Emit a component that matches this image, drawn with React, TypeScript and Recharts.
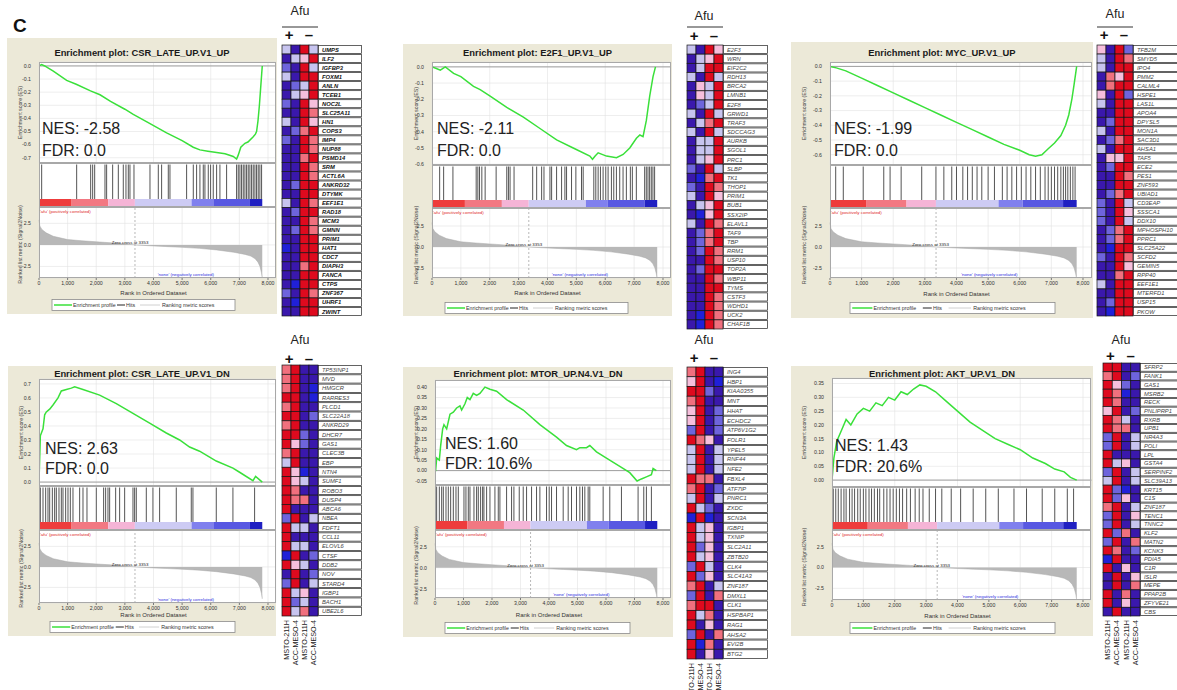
import React from "react";
import {
  LineChart, Line, XAxis, YAxis, CartesianGrid, ReferenceLine,
  ScatterChart, Scatter, AreaChart, Area, BarChart, Bar,
} from "recharts";

const FONT = '"Liberation Sans", Arial, Helvetica, sans-serif';
const XMAX = 8270;
const rankTicks = [0, 1000, 2000, 3000, 4000, 5000, 6000, 7000, 8000];
const zeroCross = 3353;

// ---- shared ranked list metric (Signal2Noise) ----
const metricRanks = [0, 30, 100, 250, 500, 1000, 1500, 2000, 2500, 3000, 3353, 4000, 4500, 5000, 5600, 6200, 6800, 7200, 7400, 7550, 7650, 7720, 7770, 7800];
const metricValues = [2.9, 2.2, 1.8, 1.4, 1.0, 0.62, 0.48, 0.36, 0.25, 0.12, 0.0, -0.12, -0.2, -0.28, -0.4, -0.58, -0.85, -1.1, -1.3, -1.6, -2.0, -2.5, -3.2, -3.9];

// ---- colour bar under the hits ----
const barEdges = [0, 1140, 2420, 3350, 5330, 6090, 7370, 7800];
const barColors = ["#ee3c3c", "#f27882", "#f5b4d6", "#cdcbf4", "#8080ee", "#5858e2", "#2020c2"];

// ---- panel 1: CSR_LATE_UP.V1_UP ----
const p1EsRanks = [0, 90, 200, 500, 966, 1300, 1800, 2131, 2500, 3000, 3294, 3800, 4458, 5000, 5389, 5622, 5900, 6205, 6500, 6787, 6903, 6960, 7050, 7194, 7300, 7485, 7560, 7601, 7650, 7700, 7740, 7780, 7800];
const p1EsValues = [0.0, 0.01, 0.0, -0.04, -0.11, -0.14, -0.19, -0.22, -0.27, -0.33, -0.37, -0.43, -0.51, -0.57, -0.62, -0.64, -0.65, -0.66, -0.67, -0.69, -0.71, -0.68, -0.62, -0.59, -0.58, -0.54, -0.52, -0.5, -0.42, -0.3, -0.18, -0.06, 0.0];
const p1Hits = [93, 1316, 1805, 1875, 1945, 2305, 2363, 2573, 2771, 2945, 3038, 3120, 3178, 3318, 3877, 4168, 4284, 4517, 4575, 5157, 5390, 5506, 5622, 5739, 5797, 5914, 5995, 6088, 6205, 6321, 6554, 6903, 6961, 7019, 7077, 7136, 7194, 7252, 7310, 7368, 7427, 7485, 7543, 7601, 7659, 7717, 7776];

// ---- panel 2: E2F1_UP.V1_UP ----
const p2EsRanks = [0, 150, 288, 460, 748, 1000, 1438, 1668, 2014, 2589, 3165, 3740, 4316, 4891, 5467, 5559, 5650, 5755, 6043, 6388, 6619, 6849, 7079, 7200, 7309, 7424, 7540, 7655, 7740];
const p2EsValues = [0.0, -0.01, -0.02, 0.0, -0.04, -0.06, -0.12, -0.14, -0.18, -0.25, -0.31, -0.38, -0.45, -0.5, -0.55, -0.57, -0.55, -0.53, -0.55, -0.56, -0.54, -0.5, -0.44, -0.42, -0.43, -0.33, -0.18, -0.06, 0.0];
const p2Hits = [265, 403, 725, 1530, 1588, 1646, 1726, 1841, 2221, 2589, 2647, 2704, 2842, 3487, 3625, 3797, 3878, 4085, 4143, 4315, 4488, 4603, 4660, 4833, 4983, 5178, 5236, 5604, 5673, 5754, 5834, 5926, 6018, 6099, 6214, 6295, 6387, 6502, 6617, 6732, 6870, 6939, 7077, 7365, 7422, 7480, 7537, 7595, 7652, 7710];

// ---- panel 3: MYC_UP.V1_UP ----
const p3EsRanks = [0, 200, 500, 1000, 1500, 2000, 2500, 3000, 3500, 4000, 4500, 5000, 5500, 6000, 6300, 6500, 6700, 6900, 7100, 7300, 7450, 7550, 7650, 7720, 7780, 7800];
const p3EsValues = [0.0, -0.01, -0.03, -0.08, -0.13, -0.18, -0.23, -0.28, -0.33, -0.38, -0.43, -0.48, -0.53, -0.57, -0.6, -0.61, -0.6, -0.56, -0.52, -0.47, -0.4, -0.33, -0.22, -0.12, -0.03, 0.0];
const p3Hits = [180, 420, 1050, 1700, 1900, 2250, 2900, 3350, 3600, 3850, 4000, 4200, 4350, 4500, 4650, 4800, 5000, 5200, 5450, 5600, 5750, 5900, 6050, 6200, 6350, 6500, 6650, 6800, 6900, 7000, 7100, 7200, 7300, 7380, 7450, 7520, 7600, 7680, 7750];

// ---- panel 4: CSR_LATE_UP.V1_DN ----
const p4EsRanks = [0, 47, 140, 198, 256, 373, 489, 664, 780, 955, 1129, 1246, 1537, 2119, 2701, 3283, 3865, 4447, 4913, 5262, 5611, 6193, 6775, 7008, 7474, 7567, 7800];
const p4EsValues = [0.0, 0.33, 0.38, 0.48, 0.5, 0.52, 0.55, 0.6, 0.65, 0.66, 0.67, 0.68, 0.66, 0.62, 0.56, 0.49, 0.42, 0.35, 0.3, 0.25, 0.22, 0.15, 0.1, 0.07, 0.01, 0.04, 0.0];
const p4Hits = [47, 140, 233, 314, 373, 466, 547, 605, 698, 780, 838, 931, 1013, 1094, 1187, 1420, 1537, 1676, 2002, 2258, 2328, 2410, 2468, 2678, 2817, 2992, 3283, 3341, 3399, 3749, 3981, 4214, 4796, 5320, 5378, 6193, 6775, 7532];

// ---- panel 5: MTOR_UP.N4.V1_DN ----
const p5EsRanks = [0, 23, 58, 152, 199, 269, 315, 409, 526, 643, 759, 876, 935, 1051, 1133, 1227, 1343, 1460, 1577, 1752, 1928, 2161, 2512, 3096, 3680, 4264, 4614, 4965, 5082, 5315, 5432, 5666, 6016, 6484, 6834, 7091, 7243, 7418, 7593, 7652, 7768];
const p5EsValues = [0.0, 0.0, 0.06, 0.05, 0.12, 0.2, 0.22, 0.2, 0.27, 0.28, 0.3, 0.31, 0.29, 0.32, 0.35, 0.34, 0.37, 0.36, 0.37, 0.4, 0.39, 0.38, 0.34, 0.29, 0.22, 0.16, 0.12, 0.1, 0.11, 0.11, 0.12, 0.09, 0.06, 0.02, -0.01, -0.05, -0.04, -0.03, -0.02, 0.01, 0.0];
const p5Hits = [58, 152, 234, 292, 386, 467, 549, 643, 736, 818, 1016, 1086, 1168, 1227, 1367, 1460, 1519, 1600, 1671, 1717, 1811, 1928, 2103, 2220, 2278, 2512, 2687, 2769, 2956, 3096, 3213, 3388, 3563, 3680, 3914, 4007, 4089, 4264, 4498, 4673, 4790, 4965, 5082, 5175, 5257, 5374, 5432, 5900, 6133, 6542, 7126, 7325, 7418, 7593];

// ---- panel 6: AKT_UP.V1_DN ----
const p6EsRanks = [0, 60, 150, 300, 450, 600, 800, 1000, 1200, 1400, 1600, 1800, 2000, 2200, 2400, 2600, 2800, 3000, 3300, 3600, 4000, 4400, 4800, 5200, 5600, 6000, 6400, 6800, 7100, 7400, 7600, 7800];
const p6EsValues = [0.0, 0.08, 0.14, 0.18, 0.22, 0.2, 0.24, 0.26, 0.25, 0.28, 0.27, 0.3, 0.29, 0.32, 0.31, 0.33, 0.345, 0.34, 0.32, 0.29, 0.25, 0.21, 0.18, 0.15, 0.13, 0.11, 0.08, 0.06, 0.04, 0.03, 0.01, 0.0];
const p6Hits = [40, 120, 200, 290, 380, 450, 560, 640, 720, 820, 900, 1000, 1080, 1180, 1260, 1350, 1450, 1520, 1650, 1750, 1850, 1950, 2050, 2150, 2250, 2380, 2500, 2650, 2780, 2900, 3100, 3300, 3500, 3800, 4100, 4500, 4900, 5300, 5800, 6200, 6700, 7100, 7500, 7700];

// ---- heatmaps ----
const colNames = ["MSTO-211H", "ACC-MESO-4", "MSTO-211H", "ACC-MESO-4"];

const h1Genes = ["UMPS", "ILF2", "IGFBP3", "FOXM1", "ANLN", "TCEB1", "NOC2L", "SLC25A11", "HN1", "COPS3", "IMP4", "NUP88", "PSMD14", "SRM", "ACTL6A", "ANKRD32", "DTYMK", "EEF1E1", "RAD18", "MCM3", "GMNN", "PRIM1", "HAT1", "CDC7", "DIAPH3", "FANCA", "CTPS", "ZNF367", "UHRF1", "ZWINT"];
const h1Values = [
  [-1, -3, 3, -1], [-3, -1, 1, 3], [-2, -3, 3, -1], [-1, -3, 3, 3], [-3, -2, -1, 3], [-3, -1, 1, 3],
  [-2, -3, 3, 1], [-3, -3, 3, 2], [-1, -3, 3, 1], [-3, -2, 2, 3], [-2, -3, 3, 2], [-3, -3, 3, 2],
  [-3, -3, 2, 3], [-3, -3, 3, 2], [-3, -3, 3, 2], [-3, -2, 3, 3], [-3, -3, 3, 3], [-1, -3, 3, 2],
  [-3, -2, 3, 3], [-3, -3, 3, 2], [-3, -2, 3, 2], [-3, -3, 3, 3], [-4, -3, 3, 3], [-3, -3, 3, 3],
  [-3, -3, 2, 3], [-3, -3, 3, 3], [-3, -4, 3, 3], [-2, -3, 3, 2], [-3, -4, 3, 3], [-3, -3, 3, 3],
];

const h2Genes = ["E2F3", "WRN", "EIF2C2", "RDH13", "BRCA2", "LMNB1", "E2F8", "GRWD1", "TRAF3", "SDCCAG3", "AURKB", "SGOL1", "PRC1", "SLBP", "TK1", "THOP1", "PRIM1", "BUB1", "SSX2IP", "ELAVL1", "TAF9", "TBP", "RRM1", "USP10", "TOP2A", "WBP11", "TYMS", "CSTF3", "WDHD1", "UCK2", "CHAF1B"];
const h2Values = [
  [-1, -3, 3, 1], [-3, -1, 1, 3], [-3, -1, 3, 3], [-1, -3, 3, -1], [-3, 1, -1, 3], [-3, 1, -1, 3],
  [-3, -2, -1, 3], [-1, -3, 3, -1], [-3, -1, 2, 3], [-1, -3, 3, -1], [-3, -1, -1, 3], [-3, -1, -1, 3],
  [-3, -1, 1, 3], [-2, -3, 3, -1], [-3, -4, 2, 3], [-2, -3, 3, 2], [-1, -3, 3, 1], [-3, -1, 1, 3],
  [-3, -4, 1, 3], [-1, -3, 3, 2], [-3, -2, 2, 3], [-3, -2, 2, 3], [-3, -2, 3, 2], [-3, -3, 3, 2],
  [-3, -2, 3, 3], [-3, -3, 3, 2], [-3, -3, 3, 3], [-3, -3, 3, 2], [-3, -3, 3, 2], [-3, -4, 3, 2],
  [-3, -4, 3, 2],
];

const h3Genes = ["TFB2M", "SMYD5", "IPO4", "PMM2", "CALML4", "HSPE1", "LAS1L", "APOA4", "DPYSL5", "MON1A", "SAC3D1", "AHSA1", "TAF5", "ECE2", "PES1", "ZNF593", "UBIAD1", "CD3EAP", "SSSCA1", "DDX10", "MPHOSPH10", "PPRC1", "SLC25A22", "SCFD2", "GEMIN5", "RPP40", "EEF1E1", "MTERFD1", "USP15", "PKOW"];
const h3Values = [
  [1, -3, 3, -2], [-1, -3, 3, 2], [-1, -3, 3, 3], [-3, 2, 1, 3], [-3, 2, 3, 3], [1, -3, 3, -2],
  [-1, -3, 3, 3], [-3, -3, 3, 3], [-3, -2, 3, 3], [-1, -3, 3, 3], [-3, -2, 2, 3], [-1, -3, 3, 3],
  [-3, 1, 1, 3], [-3, -2, 3, 3], [-3, -3, 3, 2], [-3, -3, 3, 3], [-3, -2, 2, 3], [-2, -3, 3, -1],
  [-2, -3, 3, 1], [-2, -3, 3, -1], [-3, -2, 2, 3], [-3, -2, 2, 3], [-3, -4, 3, 3], [-2, -3, 3, 2],
  [-3, -3, 3, 1], [-3, -3, 2, 3], [-1, -3, 3, 3], [-3, -3, 3, 3], [-3, -2, 3, 3], [-3, -4, 3, 3],
];

const h4Genes = ["TP53INP1", "MVD", "HMGCR", "RARRES3", "PLCD1", "SLC22A18", "ANKRD29", "DHCR7", "GAS1", "CLEC3B", "EBP", "NTN4", "SUMF1", "ROBO3", "DUSP4", "ABCA6", "NBEA", "FDFT1", "CCL11", "ELOVL6", "CTSF", "DDB2", "NOV", "STARD4", "IGBP1", "BACH1", "UBE2L6"];
const h4Values = [
  [2, 3, -3, -3], [2, 3, -3, -3], [2, 3, -3, -4], [3, 3, -3, -4], [2, 3, -3, -3], [3, 3, -3, -2],
  [2, 3, -3, -3], [3, 3, -2, -3], [3, 1, -2, -3], [2, 3, -3, -3], [-1, 3, -3, -3], [3, 1, -4, -3],
  [3, 1, -1, -3], [3, 2, -3, -3], [3, 2, 2, -3], [3, -3, -3, -3], [-2, 3, -3, -1], [3, -1, -1, -3],
  [3, -3, -3, -3], [3, -1, -1, -3], [-4, 3, -3, -2], [3, 1, -1, -3], [-3, 3, -3, -2], [-2, 3, -3, -1],
  [3, -1, 1, -3], [3, -2, -1, -3], [3, -1, 2, -3],
];

const h5Genes = ["ING4", "HBP1", "KIAA0355", "MNT", "HHAT", "ECHDC2", "ATP6V1G2", "FOLR1", "YPEL5", "RNF44", "NFE2", "FBXL4", "ATF7IP", "PNRC1", "ZXDC", "SCN3A", "IGBP1", "TXNIP", "SLC2A11", "ZBTB20", "CLK4", "SLC41A3", "ZNF187", "DMXL1", "CLK1", "HSPBAP1", "RAG1", "AHSA2", "EVI2B", "BTG2"];
const h5Values = [
  [2, 3, -3, -3], [1, 3, -3, -4], [3, 3, -2, -3], [2, 3, -3, -3], [1, 3, -3, -2], [1, 3, -3, -2],
  [-2, 3, -3, -2], [3, 2, 1, -3], [-1, 3, -3, -1], [-1, 3, -3, -1], [-1, 3, -3, -1], [3, 2, 2, -3],
  [2, 3, -3, -2], [-1, 3, -3, -1], [3, -1, -2, -3], [-4, 3, -4, -3], [3, -1, 1, -3], [3, -1, 1, -3],
  [3, -2, 1, -3], [3, -1, 1, -3], [-2, 3, -1, -3], [3, -2, 1, -3], [2, 3, -3, -1], [-2, 3, -3, 2],
  [2, 3, 3, -3], [3, -1, 2, -3], [3, -3, 1, -3], [-2, 3, -3, 2], [3, -4, 2, -3], [3, -3, 1, -3],
];

const h6Genes = ["SFRP2", "FANK1", "GAS1", "MSRB2", "RECK", "PNLIPRP1", "RXRB", "UPB1", "NR4A3", "POLI", "LPL", "GSTA4", "SERPINF2", "SLC39A13", "KRT15", "C1S", "ZNF187", "TENC1", "TNNC2", "KLF2", "MATN2", "KCNK3", "PDIA5", "C1R", "ISLR", "MEPE", "PPAP2B", "ZFYVE21", "CBS"];
const h6Values = [
  [3, 3, -3, -3], [2, 3, -3, -2], [3, 1, -2, -3], [3, 2, -4, -3], [3, 2, -3, -3], [1, 3, -3, -2],
  [3, 2, -1, -3], [3, 2, 2, -3], [-2, 3, -3, -1], [-2, 3, -3, -1], [3, -3, -3, -3], [3, -1, 1, -3],
  [-2, 3, -3, -1], [-1, 3, -3, -1], [3, -2, -4, -3], [3, -2, 1, -3], [2, 3, -3, -1], [-2, 3, -3, 1],
  [-2, 3, -3, -1], [3, -2, 2, -3], [-2, 3, -3, 2], [3, 2, -3, -2], [-4, 3, -3, -3], [3, -3, 1, -3],
  [-3, 3, -3, 1], [-3, 3, -3, 2], [3, -3, 2, -3], [3, -3, 1, -3], [-3, 3, -3, -3],
];

const heatPalette: Record<string, string> = {
  "-4": "#2020d8", "-3": "#3a18ac", "-2": "#6e64dc", "-1": "#c7c4ef",
  "1": "#f6bfdc", "2": "#f0707e", "3": "#de0a1e",
};

// ---------- layout configs ----------
const panels = [
  {
    title: "Enrichment plot: CSR_LATE_UP.V1_UP", nes: "NES: -2.58", fdr: "FDR: 0.0",
    esRanks: p1EsRanks, esValues: p1EsValues, hits: p1Hits,
    box: { x: 7, y: 38, w: 270, h: 276 }, x0: 39, x8000: 268,
    esTop: 62, esBot: 163, barTop: 199, barBot: 207, rankBot: 278,
    esDom: [-0.74, 0.03], esTicks: [0, -0.1, -0.2, -0.3, -0.4, -0.5, -0.6, -0.7], esDec: 1,
    rankDom: [-3.84, 4.4], titleY: 52, nesX: 42, nesY: 128, fdrY: 150, xTitleY: 293,
    legX1: 52, legX2: 235, legY: 305,
  },
  {
    title: "Enrichment plot: E2F1_UP.V1_UP", nes: "NES: -2.11", fdr: "FDR: 0.0",
    esRanks: p2EsRanks, esValues: p2EsValues, hits: p2Hits,
    box: { x: 403, y: 44, w: 269, h: 272 }, x0: 432, x8000: 663,
    esTop: 62, esBot: 165, barTop: 200, barBot: 208, rankBot: 278,
    esDom: [-0.605, 0.03], esTicks: [0, -0.1, -0.2, -0.3, -0.4, -0.5, -0.6], esDec: 1,
    rankDom: [-3.69, 4.64], titleY: 52, nesX: 437, nesY: 128, fdrY: 150, xTitleY: 293,
    legX1: 445, legX2: 628, legY: 308,
  },
  {
    title: "Enrichment plot: MYC_UP.V1_UP", nes: "NES: -1.99", fdr: "FDR: 0.0",
    esRanks: p3EsRanks, esValues: p3EsValues, hits: p3Hits,
    box: { x: 791, y: 42, w: 302, h: 276 }, x0: 830, x8000: 1083,
    esTop: 62, esBot: 165, barTop: 200, barBot: 208, rankBot: 278,
    esDom: [-0.67, 0.03], esTicks: [0, -0.1, -0.2, -0.3, -0.4, -0.5, -0.6], esDec: 1,
    rankDom: [-3.69, 4.64], titleY: 52, nesX: 834, nesY: 128, fdrY: 150, xTitleY: 294,
    legX1: 850, legX2: 1055, legY: 308,
  },
  {
    title: "Enrichment plot: CSR_LATE_UP.V1_DN", nes: "NES: 2.63", fdr: "FDR: 0.0",
    esRanks: p4EsRanks, esValues: p4EsValues, hits: p4Hits,
    box: { x: 8, y: 366, w: 268, h: 270 }, x0: 39, x8000: 268,
    esTop: 379, esBot: 486, barTop: 522, barBot: 530, rankBot: 603,
    esDom: [-0.028, 0.735], esTicks: [0, 0.1, 0.2, 0.3, 0.4, 0.5, 0.6, 0.7], esDec: 1,
    rankDom: [-4.4, 4.5], titleY: 373, nesX: 45, nesY: 448, fdrY: 468, xTitleY: 615,
    legX1: 50, legX2: 235, legY: 627,
  },
  {
    title: "Enrichment plot: MTOR_UP.N4.V1_DN", nes: "NES: 1.60", fdr: "FDR: 10.6%",
    esRanks: p5EsRanks, esValues: p5EsValues, hits: p5Hits,
    box: { x: 403, y: 367, w: 270, h: 270 }, x0: 435, x8000: 663,
    esTop: 380, esBot: 485, barTop: 521, barBot: 530, rankBot: 598,
    esDom: [-0.069, 0.434], esTicks: [-0.05, 0, 0.05, 0.1, 0.15, 0.2, 0.25, 0.3, 0.35, 0.4], esDec: 2,
    rankDom: [-3.6, 4.5], titleY: 373, nesX: 445, nesY: 443, fdrY: 463, xTitleY: 615,
    legX1: 445, legX2: 630, legY: 628,
  },
  {
    title: "Enrichment plot: AKT_UP.V1_DN", nes: "NES: 1.43", fdr: "FDR: 20.6%",
    esRanks: p6EsRanks, esValues: p6EsValues, hits: p6Hits,
    box: { x: 791, y: 366, w: 302, h: 270 }, x0: 832, x8000: 1083,
    esTop: 378, esBot: 487, barTop: 522, barBot: 530, rankBot: 600,
    esDom: [-0.025, 0.37], esTicks: [0, 0.05, 0.1, 0.15, 0.2, 0.25, 0.3, 0.35], esDec: 2,
    rankDom: [-3.9, 4.5], titleY: 373, nesX: 835, nesY: 445, fdrY: 466, xTitleY: 616,
    legX1: 850, legX2: 1055, legY: 628,
  },
];

const heatmaps = [
  { genes: h1Genes, values: h1Values, x: 282, y: 45, cellW: 9, cellH: 9, nameW: 45, bold: true, labels: false, afuX: 300, afuY: 11, lineY: 27, pmY: 34 },
  { genes: h2Genes, values: h2Values, x: 687, y: 45, cellW: 9, cellH: 9.13, nameW: 46, bold: false, labels: false, afuX: 704, afuY: 16, lineY: 27, pmY: 35 },
  { genes: h3Genes, values: h3Values, x: 1097, y: 45, cellW: 9, cellH: 9, nameW: 46, bold: false, labels: false, afuX: 1115, afuY: 14, lineY: 27, pmY: 34 },
  { genes: h4Genes, values: h4Values, x: 282, y: 365, cellW: 9, cellH: 9.26, nameW: 45, bold: false, labels: true, afuX: 300, afuY: 340, lineY: 0, pmY: 358 },
  { genes: h5Genes, values: h5Values, x: 687, y: 367, cellW: 9, cellH: 9.7, nameW: 46, bold: false, labels: true, afuX: 704, afuY: 340, lineY: 0, pmY: 357 },
  { genes: h6Genes, values: h6Values, x: 1103, y: 363, cellW: 9.25, cellH: 8.69, nameW: 46, bold: false, labels: true, afuX: 1121, afuY: 340, lineY: 0, pmY: 355 },
];

const tickStyle = { fontSize: 5.2, fill: "#333", fontFamily: FONT };
const AXW = 30;

function GseaPanel({ p }: { p: any }) {
  const pxPerRank = (p.x8000 - p.x0) / 8000;
  const plotW = pxPerRank * XMAX;
  const rx = (r: number) => p.x0 + r * pxPerRank;
  const esH = p.esBot - p.esTop;
  const hitsH = p.barTop - p.esBot;
  const barH = p.barBot - p.barTop;
  const rankH = p.rankBot - p.barBot;
  const zeroY = p.barBot + (rankH * p.rankDom[1]) / (p.rankDom[1] - p.rankDom[0]);
  const esData = p.esRanks.map((r: number, i: number) => ({ rank: r, es: p.esValues[i] }));
  const hitData = p.hits.map((r: number) => ({ rank: r, y: 0.5 }));
  const metricData = metricRanks.map((r, i) => ({ rank: r, v: metricValues[i] }));
  const barRow: Record<string, any> = { name: "bar" };
  barColors.forEach((_, i) => { barRow[`s${i}`] = barEdges[i + 1] - barEdges[i]; });
  const legW = p.legX2 - p.legX1;
  const ls = legW / 183;
  const L = (v: number) => p.legX1 + v * ls;
  const labX = p.box.x + 13;
  return (
    <>
      <div style={{ position: "absolute", left: p.box.x, top: p.box.y, width: p.box.w, height: p.box.h, background: "#ece9d8" }} />
      <div style={{ position: "absolute", left: p.x0, top: p.esTop, width: plotW, height: p.rankBot - p.esTop, background: "#fff" }} />
      <div style={{ position: "absolute", left: p.x0 - AXW, top: p.esTop }}>
        <LineChart width={AXW + plotW} height={esH} data={esData} margin={{ top: 0, right: 0, bottom: 0, left: 0 }}>
          <CartesianGrid stroke="#e2e2e2" strokeWidth={0.6} />
          <XAxis type="number" dataKey="rank" domain={[0, XMAX]} ticks={rankTicks} hide allowDataOverflow />
          <YAxis type="number" domain={p.esDom} ticks={p.esTicks} width={AXW} tick={tickStyle} interval={0}
            tickFormatter={(v: number) => v.toFixed(p.esDec)} axisLine={false} tickLine={false} tickMargin={2} allowDataOverflow />
          <ReferenceLine y={0} stroke="#8a8a8a" strokeWidth={0.8} />
          <Line type="linear" dataKey="es" stroke="#3ae03a" strokeWidth={1.5} dot={false} activeDot={false} isAnimationActive={false} />
        </LineChart>
      </div>
      <div style={{ position: "absolute", left: p.x0 - AXW, top: p.esBot }}>
        <ScatterChart width={AXW + plotW} height={hitsH} margin={{ top: 0, right: 0, bottom: 0, left: AXW }}>
          <XAxis type="number" dataKey="rank" domain={[0, XMAX]} hide />
          <YAxis type="number" dataKey="y" domain={[0, 1]} hide />
          <Scatter data={hitData} isAnimationActive={false}
            shape={(s: any) => <line x1={s.cx} x2={s.cx} y1={s.cy - hitsH / 2 + 1.5} y2={s.cy + hitsH / 2} stroke="#1a1a1a" strokeWidth={0.75} />} />
        </ScatterChart>
      </div>
      <div style={{ position: "absolute", left: p.x0 - AXW, top: p.barTop }}>
        <BarChart layout="vertical" width={AXW + plotW} height={barH} data={[barRow]} barCategoryGap={0} barGap={0}
          margin={{ top: 0, right: 0, bottom: 0, left: AXW }}>
          <XAxis type="number" domain={[0, XMAX]} hide allowDataOverflow />
          <YAxis type="category" dataKey="name" hide />
          {barColors.map((c, i) => (
            <Bar key={i} dataKey={`s${i}`} stackId="bar" fill={c} isAnimationActive={false} />
          ))}
        </BarChart>
      </div>
      <div style={{ position: "absolute", left: p.x0 - AXW, top: p.barBot }}>
        <AreaChart width={AXW + plotW} height={rankH + 14} data={metricData} margin={{ top: 0, right: 0, bottom: 0, left: 0 }}>
          <CartesianGrid stroke="#e2e2e2" strokeWidth={0.6} />
          <XAxis type="number" dataKey="rank" domain={[0, XMAX]} ticks={rankTicks} tick={tickStyle} interval={0} height={14}
            tickFormatter={(v: number) => v.toLocaleString("en-US")} axisLine={false} tickSize={2} tickMargin={1} stroke="#777" />
          <YAxis type="number" domain={p.rankDom} ticks={[2.5, 0, -2.5]} width={AXW} tick={tickStyle} interval={0}
            tickFormatter={(v: number) => v.toFixed(1)} axisLine={false} tickLine={false} tickMargin={2} allowDataOverflow />
          <Area type="linear" dataKey="v" baseValue={0} stroke="#a9a9a9" strokeWidth={0.5} fill="#b8b8b8" fillOpacity={1}
            dot={false} activeDot={false} isAnimationActive={false} />
          <ReferenceLine x={zeroCross} stroke="#9a9a9a" strokeDasharray="2 2" strokeWidth={0.7} />
        </AreaChart>
      </div>
      {/* plot frames */}
      <div style={{ position: "absolute", left: p.x0, top: p.esTop, width: plotW, height: esH, border: "1px solid #a8a8a8", boxSizing: "border-box" }} />
      <div style={{ position: "absolute", left: p.x0, top: p.esBot, width: plotW, height: hitsH + barH, border: "1px solid #a8a8a8", boxSizing: "border-box" }} />
      <div style={{ position: "absolute", left: p.x0, top: p.barBot, width: plotW, height: rankH, border: "1px solid #a8a8a8", boxSizing: "border-box" }} />
      <svg width={1177} height={690} style={{ position: "absolute", left: 0, top: 0, pointerEvents: "none" }} fontFamily={FONT}>
        <text x={p.box.x + p.box.w / 2} y={p.titleY} textAnchor="middle" dominantBaseline="central" fontSize={9.4} fontWeight="bold" fill="#1a1a1a">{p.title}</text>
        <text transform={`rotate(-90, ${labX}, ${(p.esTop + p.esBot) / 2})`} x={labX} y={(p.esTop + p.esBot) / 2}
          textAnchor="middle" dominantBaseline="central" fontSize={5.3} fill="#444">Enrichment score (ES)</text>
        <text transform={`rotate(-90, ${labX}, ${(p.barTop + p.rankBot) / 2 + 6})`} x={labX} y={(p.barTop + p.rankBot) / 2 + 6}
          textAnchor="middle" dominantBaseline="central" fontSize={5.3} fill="#444">Ranked list metric (Signal2Noise)</text>
        <text x={p.nesX} y={p.nesY} dominantBaseline="central" fontSize={16} fill="#222">{p.nes}</text>
        <text x={p.nesX} y={p.fdrY} dominantBaseline="central" fontSize={16} fill="#222">{p.fdr}</text>
        <text x={p.x0 + 1} y={p.barBot + 4} dominantBaseline="central" fontSize={4.4} fill="#e02626">'afu' (positively correlated)</text>
        <text x={rx(4150)} y={p.rankBot - 4} dominantBaseline="central" fontSize={4.4} fill="#2a2ae0">'none' (negatively correlated)</text>
        <text x={rx(3180)} y={zeroY - 2.5} textAnchor="middle" dominantBaseline="central" fontSize={4.4} fill="#222">Zero cross at 3353</text>
        <text x={rx(4000)} y={p.xTitleY} textAnchor="middle" dominantBaseline="central" fontSize={6} fill="#333">Rank in Ordered Dataset</text>
        <rect x={p.legX1} y={p.legY - 5.5} width={legW} height={11} fill="#fff" stroke="#8a8a8a" strokeWidth={0.8} />
        <line x1={L(2)} x2={L(20)} y1={p.legY} y2={p.legY} stroke="#3ae03a" strokeWidth={1.5} />
        <text x={L(21)} y={p.legY} dominantBaseline="central" fontSize={5.3} fill="#333">Enrichment profile</text>
        <line x1={L(65)} x2={L(73)} y1={p.legY} y2={p.legY} stroke="#222" strokeWidth={1} />
        <text x={L(74)} y={p.legY} dominantBaseline="central" fontSize={5.3} fill="#333">Hits</text>
        <line x1={L(88)} x2={L(108)} y1={p.legY} y2={p.legY} stroke="#d0d0d0" strokeWidth={1} />
        <text x={L(110)} y={p.legY} dominantBaseline="central" fontSize={5.3} fill="#333">Ranking metric scores</text>
      </svg>
    </>
  );
}

function Heatmap({ h }: { h: any }) {
  const n = h.genes.length;
  const plotH = n * h.cellH;
  const plotW = 4 * h.cellW;
  const labelH = h.labels ? 60 : 0;
  const data: { col: number; row: number; v: number }[] = [];
  h.values.forEach((row: number[], ri: number) => row.forEach((v, ci) => data.push({ col: ci, row: ri, v })));
  const rowTicks = h.genes.map((_: string, i: number) => i);
  const GeneTick = (t: any) => (
    <g>
      <rect x={t.x + 0.5} y={t.y - h.cellH / 2 + 0.5} width={h.nameW - 2} height={h.cellH - 1} fill="#fff" stroke="#222" strokeWidth={0.7} />
      <text x={t.x + 4} y={t.y} dy="0.35em" fontSize={5.8} fontStyle="italic" fontWeight={h.bold ? "bold" : "normal"}
        fill={h.bold ? "#111" : "#444"} fontFamily={FONT}>{h.genes[t.payload.value]}</text>
    </g>
  );
  const ColTick = (t: any) => (
    <text transform={`rotate(-90, ${t.x}, ${t.y})`} x={t.x} y={t.y} textAnchor="end" dy="0.35em" fontSize={7.2} fill="#222" fontFamily={FONT}>
      {colNames[t.payload.value]}
    </text>
  );
  return (
    <>
      <div style={{ position: "absolute", left: h.x, top: h.y }}>
        <ScatterChart width={plotW + h.nameW + 1} height={plotH + labelH + 1} margin={{ top: 0, right: 1, bottom: 0, left: 0 }}>
          <XAxis type="number" dataKey="col" domain={[-0.5, 3.5]} ticks={[0, 1, 2, 3]} hide={!h.labels} height={labelH}
            interval={0} axisLine={false} tickLine={false} tickSize={0} tickMargin={4} tick={ColTick} />
          <YAxis type="number" dataKey="row" domain={[-0.5, n - 0.5]} reversed orientation="right" width={h.nameW}
            ticks={rowTicks} interval={0} axisLine={false} tickLine={false} tickSize={0} tickMargin={0} tick={GeneTick} />
          <Scatter data={data} isAnimationActive={false}
            shape={(s: any) => (
              <rect x={s.cx - h.cellW / 2} y={s.cy - h.cellH / 2} width={h.cellW} height={h.cellH}
                fill={heatPalette[String(s.payload.v)]} stroke="#151515" strokeWidth={0.7} />
            )} />
        </ScatterChart>
      </div>
      <svg width={1177} height={690} style={{ position: "absolute", left: 0, top: 0, pointerEvents: "none" }} fontFamily={FONT}>
        <text x={h.afuX} y={h.afuY} textAnchor="middle" dominantBaseline="central" fontSize={12.5} fill="#222">Afu</text>
        {h.lineY > 0 && <line x1={h.x} x2={h.x + plotW} y1={h.lineY} y2={h.lineY} stroke="#333" strokeWidth={1.2} />}
        <text x={h.x + h.cellW * 0.8} y={h.pmY} textAnchor="middle" dominantBaseline="central" fontSize={15} fontWeight="bold" fill="#111">+</text>
        <text x={h.x + h.cellW * 3} y={h.pmY} textAnchor="middle" dominantBaseline="central" fontSize={15} fontWeight="bold" fill="#111">–</text>
      </svg>
    </>
  );
}

export default function App() {
  return (
    <div style={{ position: "absolute", left: 0, top: 0, width: 1177, height: 690, overflow: "hidden", background: "#fff", fontFamily: FONT }}>
      <style>{`.recharts-surface{overflow:visible}`}</style>
      {panels.map((p, i) => <GseaPanel key={i} p={p} />)}
      {heatmaps.map((h, i) => <Heatmap key={i} h={h} />)}
      <svg width={60} height={40} style={{ position: "absolute", left: 0, top: 0 }}>
        <text x={13} y={32} fontSize={19} fontWeight="bold" fill="#111" fontFamily={FONT}>C</text>
      </svg>
    </div>
  );
}
